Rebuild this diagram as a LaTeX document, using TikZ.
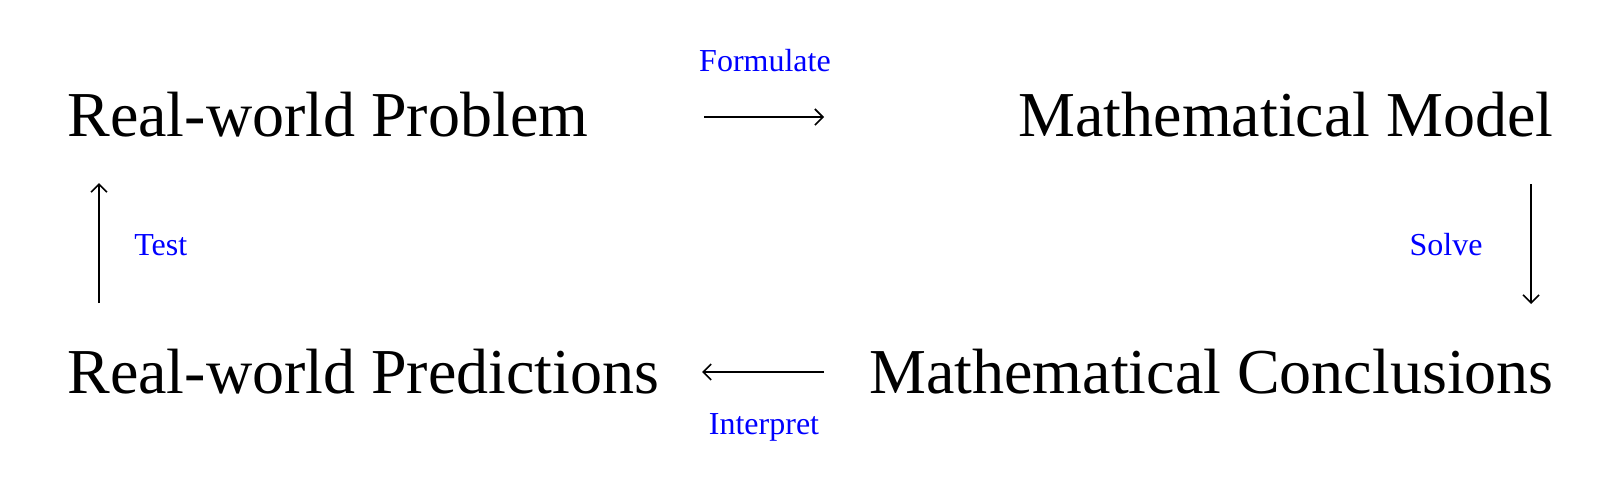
\documentclass[tikz,border=0pt]{standalone}
\usepackage{fontspec}
\setmainfont{Liberation Serif}
\usetikzlibrary{arrows.meta}
\begin{document}
\begin{tikzpicture}[x=0.5pt,y=-0.5pt]
    \tikzset{stage/.style={inner sep=0pt, font=\fontsize{32}{35}\selectfont}}
    \tikzset{step label/.style={inner sep=0pt, text=blue, font=\fontsize{16}{18}\selectfont}}
    \tikzset{flow/.style={line width=0.8pt, -{Straight Barb[length=4pt,width=8pt]}}}
    \useasboundingbox (0,0) rectangle (1600,488);

    \node [stage, anchor=base west] (a) at (67,136) {Real-world Problem};
    \node [stage, anchor=base east] (b) at (1554,136) {Mathematical Model};
    \node [stage, anchor=base east] (c) at (1554,393) {Mathematical Conclusions};
    \node [stage, anchor=base west] (d) at (67,393) {Real-world Predictions};

    \coordinate (ab1) at (704,117);
    \coordinate (ab2) at (824,117);
    \coordinate (bc1) at (1531,184);
    \coordinate (bc2) at (1531,304);
    \coordinate (cd1) at (824,372);
    \coordinate (cd2) at (702,372);
    \coordinate (da1) at (99,303);
    \coordinate (da2) at (99,183);

    \draw [flow] (ab1) -- (ab2);
    \draw [flow] (bc1) -- (bc2);
    \draw [flow] (cd1) -- (cd2);
    \draw [flow] (da1) -- (da2);

    \node [step label, anchor=base] (f) at (765,71) {Formulate};
    \node [step label, anchor=base] (s) at (1446,255) {Solve};
    \node [step label, anchor=base] (i) at (764,434) {Interpret};
    \node [step label, anchor=base west] (t) at (134,255) {Test};
\end{tikzpicture}
\end{document}
